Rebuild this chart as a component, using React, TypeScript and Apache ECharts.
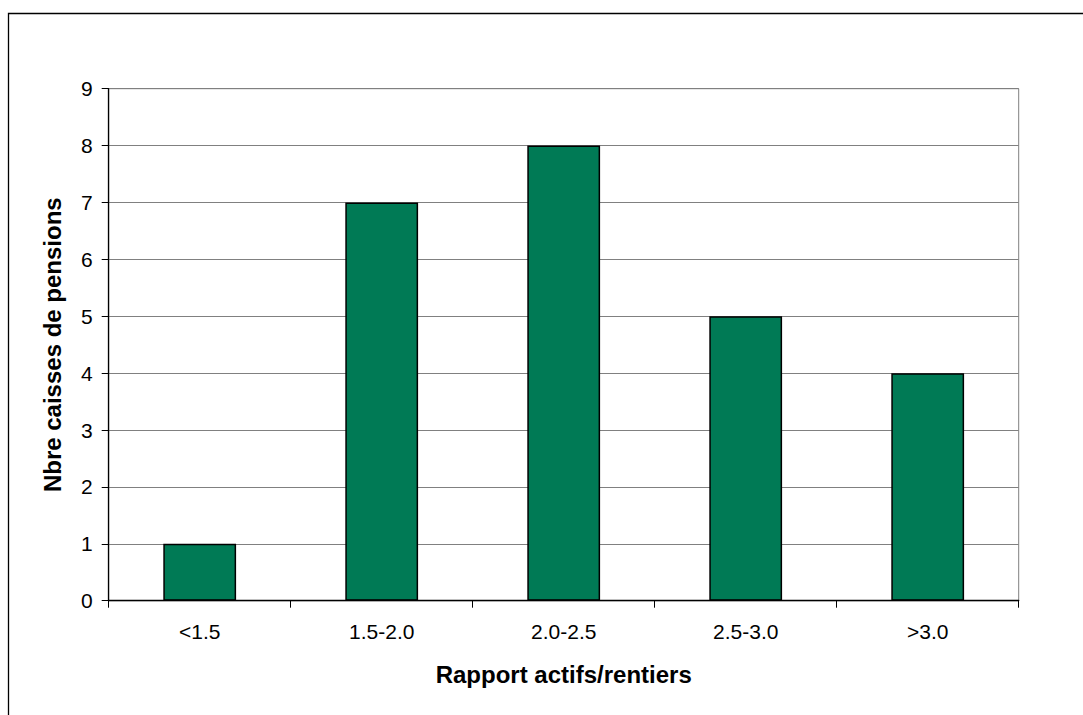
import React, { useEffect, useRef } from "react";
import * as echarts from "echarts";

const categories = ["<1.5", "1.5-2.0", "2.0-2.5", "2.5-3.0", ">3.0"];
const caisses = [1, 7, 8, 5, 4];
const yTicks = { min: 0, max: 9, interval: 1 };

const FONT = "'Liberation Sans', Arial, sans-serif";

export default function App() {
  const ref = useRef<HTMLDivElement>(null);

  useEffect(() => {
    if (!ref.current) return;
    const chart = echarts.init(ref.current, null, { renderer: "svg" });
    chart.setOption({
      animation: false,
      backgroundColor: "#ffffff",
      textStyle: { fontFamily: FONT },
      graphic: [
        {
          type: "rect",
          shape: { x: 8.5, y: 13.5, width: 1200, height: 800 },
          style: { fill: "none", stroke: "#000000", lineWidth: 1.3 },
          z: 0,
        },
      ],
      grid: {
        left: 108.7,
        right: 64.3,
        top: 88.7,
        bottom: 114.3,
        show: true,
        borderColor: "#808080",
        borderWidth: 1,
        backgroundColor: "transparent",
      },
      xAxis: {
        type: "category",
        data: categories,
        name: "Rapport actifs/rentiers",
        nameLocation: "middle",
        nameGap: 62,
        nameTextStyle: { fontSize: 24, fontWeight: "bold", color: "#000", fontFamily: FONT },
        axisLine: { show: true, lineStyle: { color: "#000", width: 1.3 } },
        axisTick: { show: true, alignWithLabel: false, length: 7, lineStyle: { color: "#000" } },
        axisLabel: { fontSize: 21, color: "#000", margin: 20, fontFamily: FONT },
        splitLine: { show: false },
        z: 10,
      },
      yAxis: {
        type: "value",
        min: yTicks.min,
        max: yTicks.max,
        interval: yTicks.interval,
        name: "Nbre caisses de pensions",
        nameLocation: "middle",
        nameGap: 44,
        nameTextStyle: { fontSize: 24, fontWeight: "bold", color: "#000", fontFamily: FONT },
        axisLine: { show: true, lineStyle: { color: "#000", width: 1.3 } },
        axisTick: { show: true, length: 7, lineStyle: { color: "#000" } },
        axisLabel: { fontSize: 21, color: "#000", margin: 16, fontFamily: FONT },
        splitLine: { show: true, lineStyle: { color: "#808080", width: 1 } },
      },
      series: [
        {
          type: "bar",
          data: caisses,
          barCategoryGap: "60%",
          itemStyle: { color: "#007A55", borderColor: "#000000", borderWidth: 1.5 },
        },
      ],
    });
    return () => chart.dispose();
  }, []);

  return (
    <div
      ref={ref}
      style={{ position: "fixed", left: 0, top: 0, width: 1083, height: 715 }}
    />
  );
}
